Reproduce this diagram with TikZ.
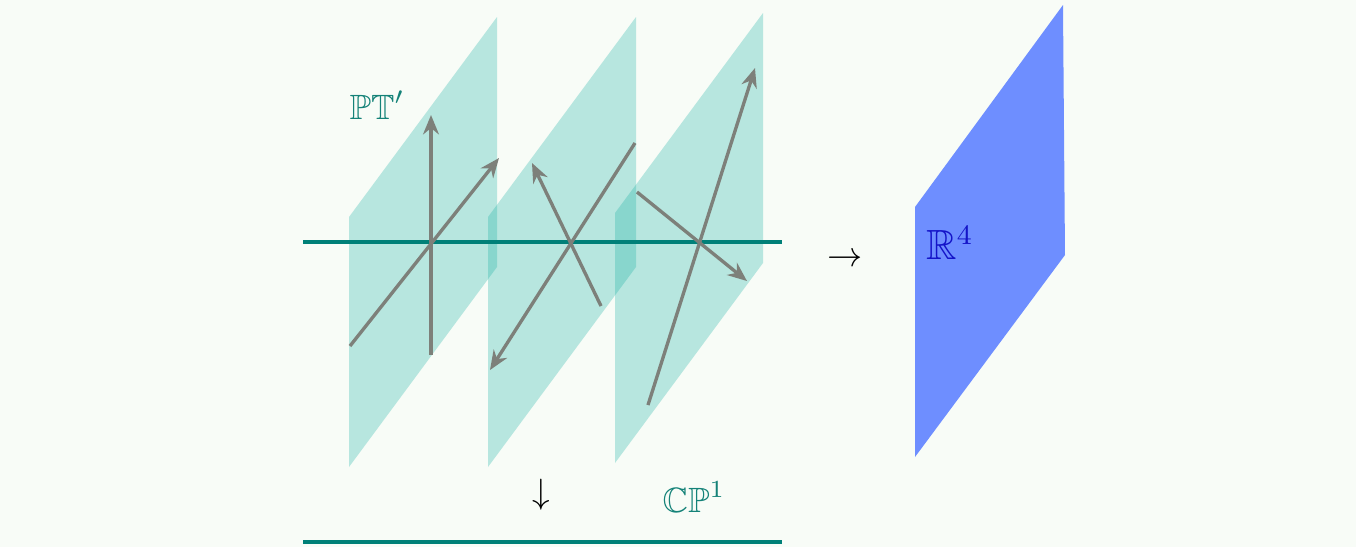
\documentclass[tikz,border=0pt]{standalone}
\usepackage{amsmath}
\usepackage{amssymb}
\usetikzlibrary{
  arrows.meta
}
\definecolor{bgcolor}{RGB}{248, 252, 247}
\definecolor{fibrecolor}{RGB}{10, 172, 160}
\definecolor{basecolor}{RGB}{0, 128, 120}
\definecolor{vectorcolor}{RGB}{125, 128, 122}
\definecolor{targetcolor}{RGB}{110, 142, 255}
\definecolor{targetlabelcolor}{RGB}{20, 20, 200}
\definecolor{fibrelabelcolor}{RGB}{20, 130, 120}
\tikzset{
fibreplane/.style={
  fill=fibrecolor,
  fill opacity=0.27
},
targetplane/.style={
  fill=targetcolor
},
baseaxis/.style={
  draw=basecolor,
  line width=1.1pt
},
vector/.style={
  -{Stealth[length=5.5pt,width=4.5pt]},
  line width=0.95pt,
  draw=vectorcolor
},
mathlabel/.style={
  font=\normalsize,
  inner sep=0pt
}
}

\begin{document}
\begin{tikzpicture}[x=0.01cm, y=-0.01cm]
      \fill[bgcolor] (0,0) rectangle (1356,547);
      \useasboundingbox (0,0) rectangle (1356,547);

      % Fibres over the line
      \foreach \px/\py in {349/217, 488/217, 615/213}
        \fill[fibreplane] (\px,\py) -- ++(148,-200) -- ++(0,250) -- ++(-148,200) -- cycle;

      \coordinate (axisW) at (303,242);
      \coordinate (axisE) at (782,242);
      \draw[baseaxis] (axisW) -- (axisE);

      % Vectors in each fibre
      \coordinate (p1a) at (431,355); \coordinate (p1b) at (431,115);
      \coordinate (p1c) at (350,346); \coordinate (p1d) at (499,158);
      \coordinate (p2a) at (601,306); \coordinate (p2b) at (532,163);
      \coordinate (p2c) at (635,143); \coordinate (p2d) at (490,370);
      \coordinate (p3a) at (637,192); \coordinate (p3b) at (747,281);
      \coordinate (p3c) at (648,405); \coordinate (p3d) at (755,68);
      \draw[vector] (p1a) -- (p1b);
      \draw[vector] (p1c) -- (p1d);
      \draw[vector] (p2a) -- (p2b);
      \draw[vector] (p2c) -- (p2d);
      \draw[vector] (p3a) -- (p3b);
      \draw[vector] (p3c) -- (p3d);

      \node[mathlabel, text=fibrelabelcolor] (pt) at (377,105) {$\mathbb{PT}'$};

      % Target space
      \fill[targetplane] (915,207) -- (1063,5) -- (1065,255) -- (915,457) -- cycle;
      \node[mathlabel, font=\large, text=targetlabelcolor] (rfour) at (950,243) {$\mathbb{R}^4$};
      \node[mathlabel] (tomap) at (845,260) {$\rightarrow$};

      % Projection to the base
      \node[mathlabel] (downmap) at (541,495) {$\downarrow$};
      \node[mathlabel, text=fibrelabelcolor] (cpone) at (694,497) {$\mathbb{CP}^1$};
      \coordinate (baseW) at (303,542);
      \coordinate (baseE) at (782,542);
      \draw[baseaxis] (baseW) -- (baseE);
    \end{tikzpicture}
\end{document}
